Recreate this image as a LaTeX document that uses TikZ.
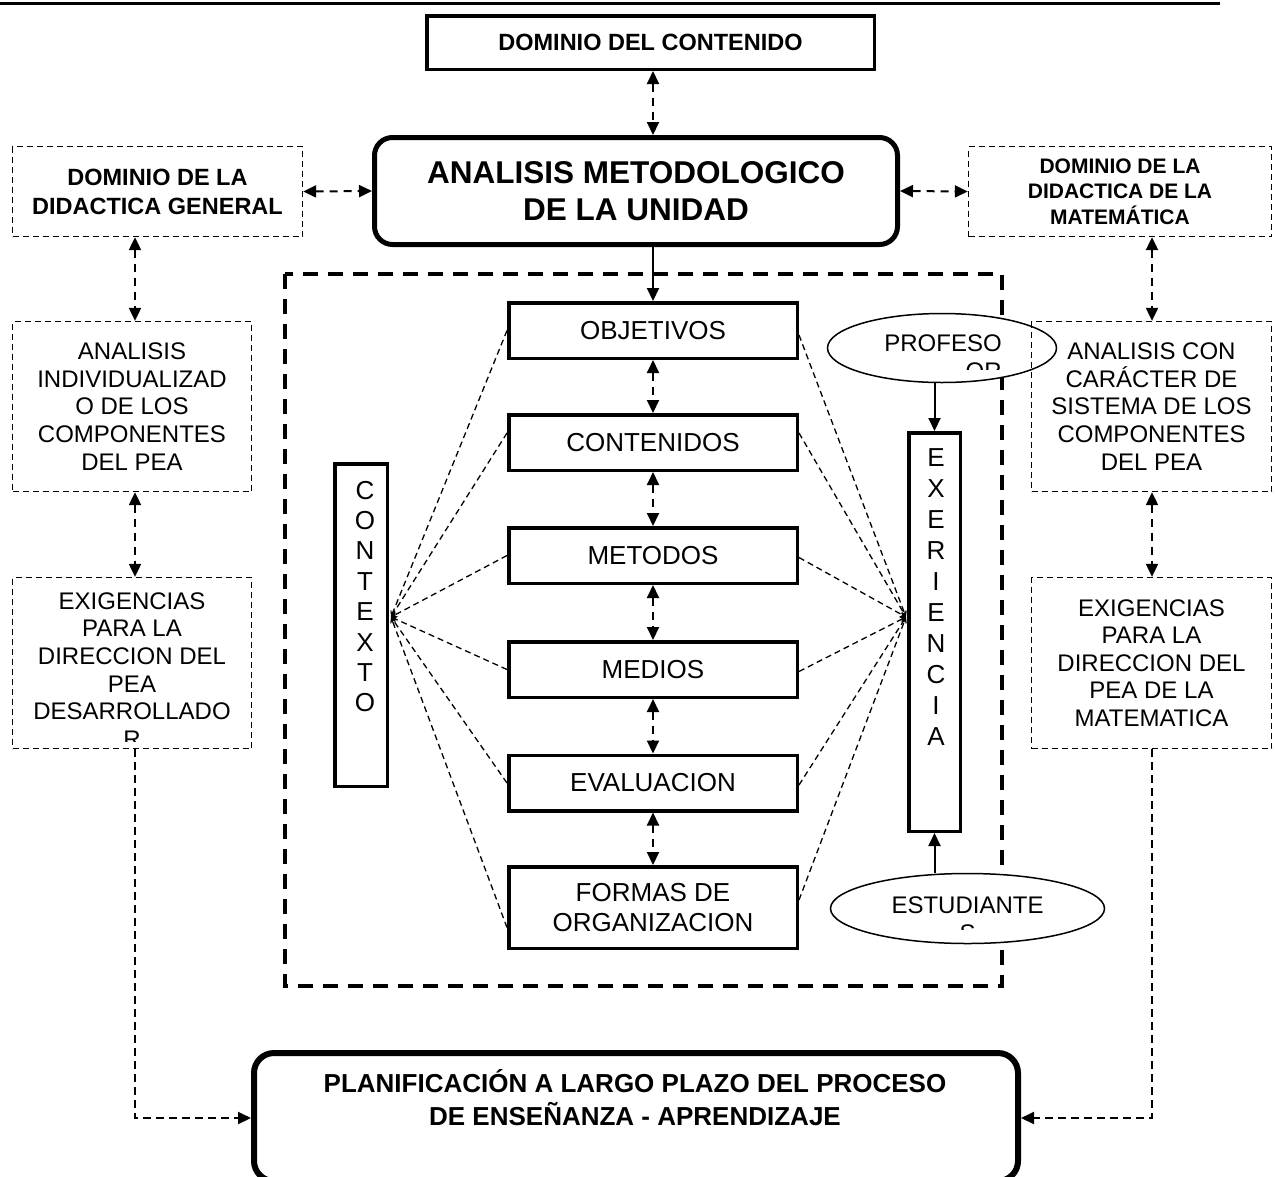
\documentclass[tikz,border=0pt]{standalone}
\usepackage{fontspec}
\setmainfont{Liberation Sans}
\usetikzlibrary{arrows.meta,shapes.geometric,calc}
\newcommand{\mysize}[2]{\fontsize{#1pt}{#2pt}\selectfont}
\tikzset{
  thinbox/.style={draw, line width=1.3pt, dash pattern=on 6pt off 4pt, inner sep=0pt, align=center},
  solidbox/.style={draw, line width=3.5pt, inner sep=0pt, align=center},
  cbox/.style={solidbox, minimum width=288.5pt, minimum height=55.5pt, font=\mysize{26}{30}},
  coltext/.style={font=\mysize{24}{27.6}},
  plain/.style={inner sep=0pt, align=center},
  dblarrow/.style={line width=2pt, dash pattern=on 8pt off 6pt, {Triangle[length=13pt,width=12pt]}-{Triangle[length=13pt,width=12pt]}},
  onearrow/.style={line width=2pt, -{Triangle[length=13pt,width=12pt]}},
  dasharrow/.style={line width=2pt, dash pattern=on 8pt off 5pt, -{Triangle[length=13pt,width=12pt]}},
  fan/.style={line width=1.3pt, dash pattern=on 6pt off 4pt, -{Stealth[length=6pt,width=6pt]}},
  bigdash/.style={line width=3.2pt, dash pattern=on 15pt off 10pt},
  oval/.style={draw, ellipse, fill=white, line width=1.5pt, inner sep=0pt},
}
\begin{document}
\begin{tikzpicture}[x=1pt,y=-1pt]
\useasboundingbox (0,0) rectangle (1275,1176);
\draw[line width=3pt] (0,3) -- (1220,3);

% group frame
\draw[bigdash] (285,274) rectangle (1002,986);

% top
\node[solidbox, minimum width=447.5pt, minimum height=53.5pt, font=\bfseries\mysize{23.5}{28}] (dom) at (650.5,42.5) {DOMINIO DEL CONTENIDO};
\node[draw, line width=5pt, rounded corners=18pt, minimum width=523pt, minimum height=107pt, inner sep=0pt, align=center, font=\bfseries\mysize{31.5}{37}] (ana) at (636,191) {ANALISIS METODOLOGICO\\DE LA UNIDAD};
\node[thinbox, minimum width=290pt, minimum height=90pt, font=\bfseries\mysize{23.5}{29}] (dg) at (157.5,191.5) {DOMINIO DE LA\\DIDACTICA GENERAL};
\node[thinbox, minimum width=303pt, minimum height=90pt, font=\bfseries\mysize{21}{25.5}] (dm) at (1120,191.5) {DOMINIO DE LA\\DIDACTICA DE LA\\MATEMÁTICA};

% left column
\node[thinbox, minimum width=239pt, minimum height=170pt, coltext] (ai) at (132,406.5) {ANALISIS\\INDIVIDUALIZAD\\O DE LOS\\COMPONENTES\\DEL PEA};
\node[thinbox, minimum width=239pt, minimum height=171pt] (ex1) at (132,663) {};
\begin{scope}
\clip (14,579) rectangle (250,741);
\node[plain, coltext] (ex1t) at (132,670) {EXIGENCIAS\\PARA LA\\DIRECCION DEL\\PEA\\DESARROLLADO\\R};
\end{scope}

% ovals
\node[oval, minimum width=229pt, minimum height=69pt] (prof) at (942,348) {};
\begin{scope}
\clip (830,320) rectangle (1040,369);
\node[plain, align=right, coltext] (proft) at (943,357.5) {PROFESO\\OR};
\end{scope}
\node[oval, minimum width=274pt, minimum height=70pt] (est) at (967.5,908.5) {};
\begin{scope}
\clip (835,880) rectangle (1100,929);
\node[plain, coltext] (estt) at (967.5,919) {ESTUDIANTE\\S};
\end{scope}

% right column
\node[thinbox, minimum width=240pt, minimum height=170pt, coltext] (ac) at (1151.5,406.5) {ANALISIS CON\\CARÁCTER DE\\SISTEMA DE LOS\\COMPONENTES\\DEL PEA};
\node[thinbox, minimum width=240pt, minimum height=171pt, coltext] (ex2) at (1151.5,663) {EXIGENCIAS\\PARA LA\\DIRECCION DEL\\PEA DE LA\\MATEMATICA};

% central column
\node[cbox] (obj) at (653,330.5) {OBJETIVOS};
\node[cbox] (cont) at (653,442.5) {CONTENIDOS};
\node[cbox] (met) at (653,555.5) {METODOS};
\node[cbox] (med) at (653,669.5) {MEDIOS};
\node[cbox] (eval) at (653,783) {EVALUACION};
\node[cbox, minimum height=81.5pt] (frm) at (653,907.5) {FORMAS DE\\ORGANIZACION};

% vertical boxes
\node[solidbox, minimum width=52.5pt, minimum height=322.5pt] (ctx) at (361,625) {};
\node[plain, font=\mysize{26}{30.4}] (ctxt) at (365,596.5) {C\\O\\N\\T\\E\\X\\T\\O};
\node[solidbox, minimum width=51.5pt, minimum height=398.5pt] (exer) at (934.5,632) {};
\node[plain, font=\mysize{26}{31}] (exert) at (936,597.5) {E\\X\\E\\R\\I\\E\\N\\C\\I\\A};

% bottom (its lower edge lies just below the page)
\node[draw, line width=6pt, rounded corners=20pt, minimum width=764pt, minimum height=128pt, inner sep=0pt] (pl) at (636,1117) {};
\node[plain, font=\bfseries\mysize{26}{32.5}] (plt) at (635,1097.6) {PLANIFICACIÓN A LARGO PLAZO DEL PROCESO\\DE ENSEÑANZA - APRENDIZAJE};

% helper coordinates
\coordinate (lx) at (135,0);
\coordinate (rx) at (1152,0);
\coordinate (cl) at (391,617);
\coordinate (cr) at (906,617);

% connectors
\draw[dblarrow] (dom.south -| obj.north) -- (ana.north -| obj.north);
\draw[dblarrow] (dg.east) -- (ana.west);
\draw[dblarrow] (ana.east) -- (dm.west);
\draw[dblarrow] (dg.south -| lx) -- (ai.north -| lx);
\draw[dblarrow] (ai.south -| lx) -- (ex1.north -| lx);
\draw[dblarrow] (dm.south -| rx) -- (ac.north -| rx);
\draw[dblarrow] (ac.south -| rx) -- (ex2.north -| rx);
\draw[onearrow] (ana.south -| obj.north) -- (obj.north);
\draw[dblarrow] (obj.south) -- (cont.north);
\draw[dblarrow] (cont.south) -- (met.north);
\draw[dblarrow] (met.south) -- (med.north);
\draw[dblarrow] (med.south) -- (eval.north);
\draw[dblarrow] (eval.south) -- (frm.north);
\draw[dasharrow] (ex1.south -| lx) |- ([yshift=-1pt]pl.west);
\draw[dasharrow] (ex2.south -| rx) |- ([yshift=-1pt]pl.east);
\draw[onearrow] (prof.south -| exer.north) -- (exer.north);
\draw[onearrow] (est.north -| exer.south) -- (exer.south);

\foreach \n/\s in {obj/0, cont/9.5, met/0, med/0, eval/0, frm/-20}
  \draw[fan] ([yshift=\s pt]\n.west) -- (cl);
\foreach \n/\s in {obj/-4.5, cont/9.5, met/-2, med/-2, eval/-2, frm/7.5}
  \draw[fan] ([yshift=\s pt]\n.east) -- (cr);
\end{tikzpicture}
\end{document}
